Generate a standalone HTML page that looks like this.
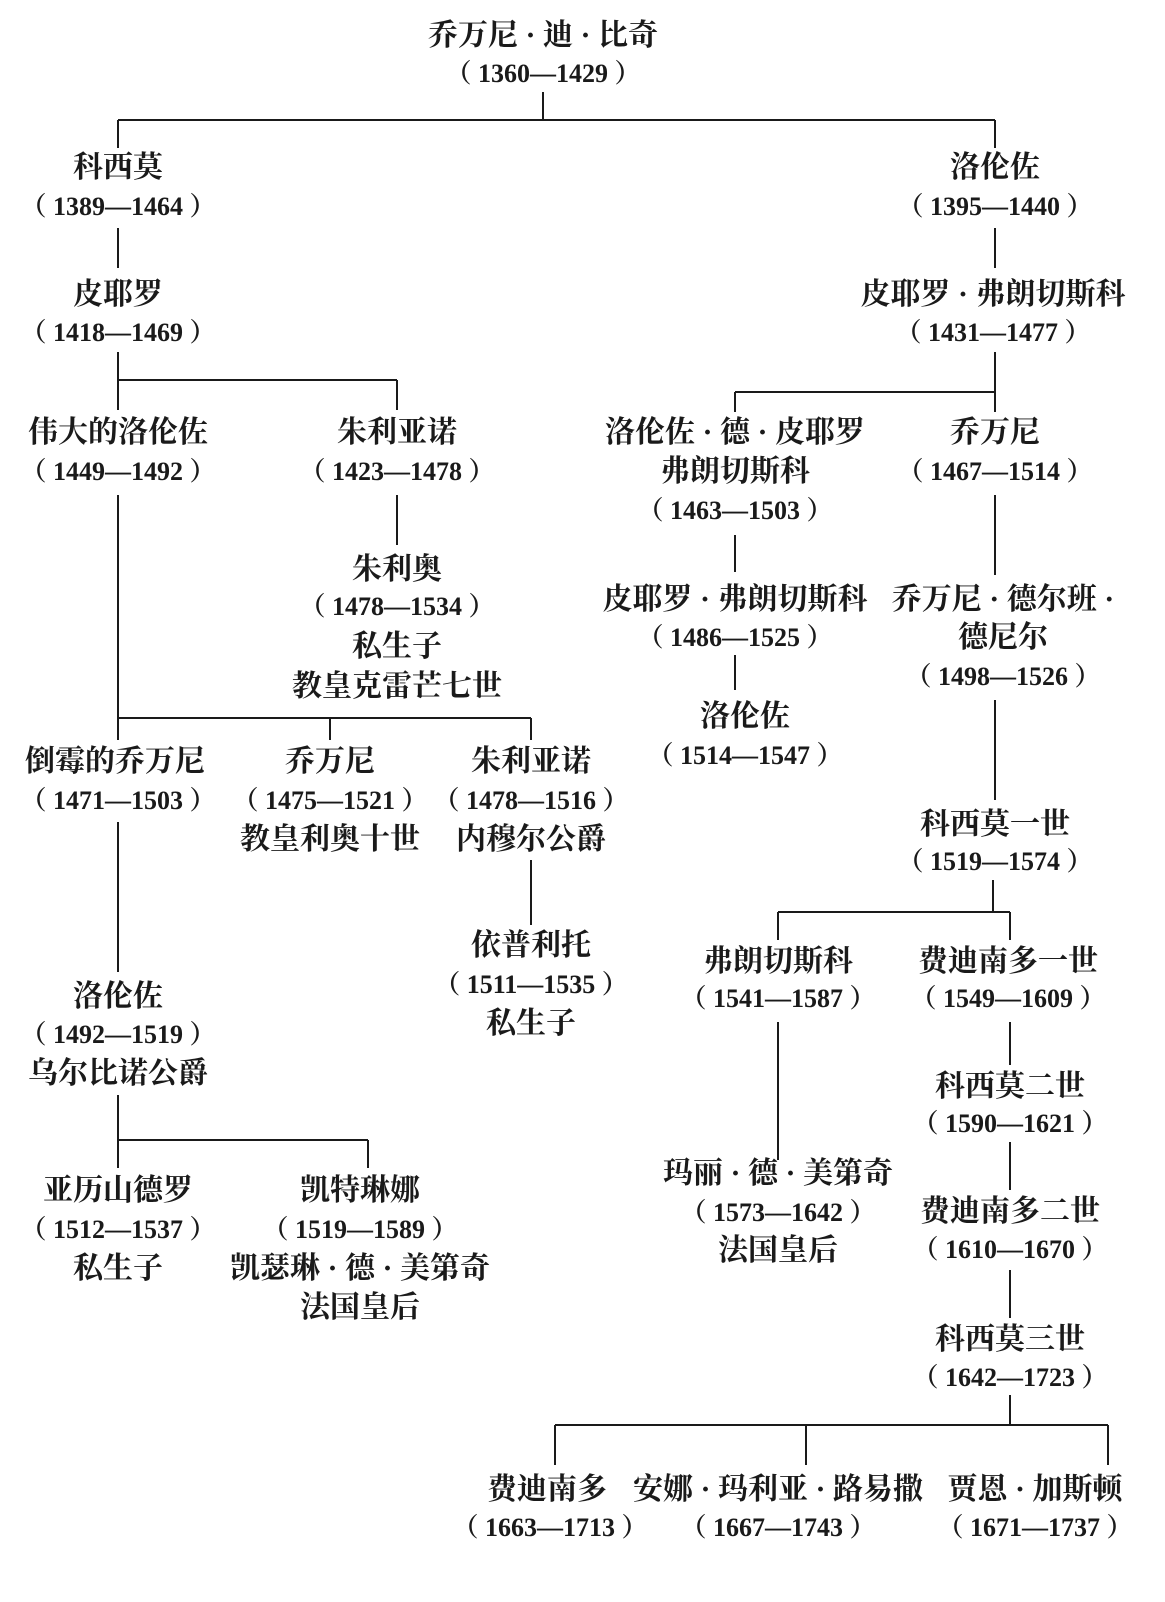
<!DOCTYPE html>
<html><head><meta charset="utf-8">
<style>
html,body{margin:0;padding:0;background:#fff;}
body{width:1165px;height:1602px;position:relative;overflow:hidden;}
.t{position:absolute;transform:translate(-50%,-50%);white-space:nowrap;font-family:"Liberation Serif","Noto Serif CJK SC",serif;font-weight:bold;color:#1a1a1a;font-size:30px;line-height:1;}
.d{font-size:26px;font-weight:bold;font-family:"Liberation Serif","Noto Serif CJK SC",serif;}
svg{position:absolute;left:0;top:0;}
</style></head><body>
<svg width="1165" height="1602" stroke="#1a1a1a" stroke-width="2" fill="none">
<path d="M543 92V120M118 120H995M118 120V148M995 120V148"/>
<path d="M118 228V268M118 352V410M118 380H397M397 380V410"/>
<path d="M397 495V545M118 495V740M118 718H531M330 718V740M531 718V740"/>
<path d="M118 822V972M118 1095V1168M118 1140H368M368 1140V1168M531 860V925"/>
<path d="M995 228V268M995 352V392M735 392H995M735 392V412M995 392V412"/>
<path d="M735 535V572M735 655V690M995 495V575M995 700V800"/>
<path d="M993 880V912M778 912H1010M778 912V940M1010 912V940"/>
<path d="M778 1022V1160M1010 1022V1065M1010 1142V1190M1010 1270V1318M1010 1395V1425M555 1425H1108M555 1425V1465M806 1425V1465M1108 1425V1465"/>
</svg>
<div class="t" style="left:543px;top:36px">乔万尼 · 迪 · 比奇</div>
<div class="t d" style="left:543px;top:74px">（ 1360—1429 ）</div>

<div class="t" style="left:118px;top:168px">科西莫</div>
<div class="t d" style="left:118px;top:207px">（ 1389—1464 ）</div>
<div class="t" style="left:118px;top:295px">皮耶罗</div>
<div class="t d" style="left:118px;top:333px">（ 1418—1469 ）</div>
<div class="t" style="left:118px;top:433px">伟大的洛伦佐</div>
<div class="t d" style="left:118px;top:472px">（ 1449—1492 ）</div>
<div class="t" style="left:397px;top:433px">朱利亚诺</div>
<div class="t d" style="left:397px;top:472px">（ 1423—1478 ）</div>
<div class="t" style="left:397px;top:570px">朱利奥</div>
<div class="t d" style="left:397px;top:607px">（ 1478—1534 ）</div>
<div class="t" style="left:397px;top:647px">私生子</div>
<div class="t" style="left:397px;top:687px">教皇克雷芒七世</div>
<div class="t" style="left:115px;top:762px">倒霉的乔万尼</div>
<div class="t d" style="left:118px;top:801px">（ 1471—1503 ）</div>
<div class="t" style="left:330px;top:762px">乔万尼</div>
<div class="t d" style="left:330px;top:801px">（ 1475—1521 ）</div>
<div class="t" style="left:330px;top:840px">教皇利奥十世</div>
<div class="t" style="left:531px;top:762px">朱利亚诺</div>
<div class="t d" style="left:531px;top:801px">（ 1478—1516 ）</div>
<div class="t" style="left:531px;top:840px">内穆尔公爵</div>
<div class="t" style="left:531px;top:946px">依普利托</div>
<div class="t d" style="left:531px;top:985px">（ 1511—1535 ）</div>
<div class="t" style="left:531px;top:1024px">私生子</div>
<div class="t" style="left:118px;top:997px">洛伦佐</div>
<div class="t d" style="left:118px;top:1035px">（ 1492—1519 ）</div>
<div class="t" style="left:118px;top:1074px">乌尔比诺公爵</div>
<div class="t" style="left:118px;top:1191px">亚历山德罗</div>
<div class="t d" style="left:118px;top:1230px">（ 1512—1537 ）</div>
<div class="t" style="left:118px;top:1269px">私生子</div>
<div class="t" style="left:360px;top:1191px">凯特琳娜</div>
<div class="t d" style="left:360px;top:1230px">（ 1519—1589 ）</div>
<div class="t" style="left:360px;top:1269px">凯瑟琳 · 德 · 美第奇</div>
<div class="t" style="left:360px;top:1308px">法国皇后</div>

<div class="t" style="left:995px;top:168px">洛伦佐</div>
<div class="t d" style="left:995px;top:207px">（ 1395—1440 ）</div>
<div class="t" style="left:993px;top:295px">皮耶罗 · 弗朗切斯科</div>
<div class="t d" style="left:993px;top:333px">（ 1431—1477 ）</div>
<div class="t" style="left:735px;top:433px">洛伦佐 · 德 · 皮耶罗</div>
<div class="t" style="left:735px;top:472px">弗朗切斯科</div>
<div class="t d" style="left:735px;top:511px">（ 1463—1503 ）</div>
<div class="t" style="left:995px;top:433px">乔万尼</div>
<div class="t d" style="left:995px;top:472px">（ 1467—1514 ）</div>
<div class="t" style="left:735px;top:600px">皮耶罗 · 弗朗切斯科</div>
<div class="t d" style="left:735px;top:638px">（ 1486—1525 ）</div>
<div class="t" style="left:745px;top:717px">洛伦佐</div>
<div class="t d" style="left:745px;top:756px">（ 1514—1547 ）</div>
<div class="t" style="left:1003px;top:600px">乔万尼 · 德尔班 ·</div>
<div class="t" style="left:1003px;top:638px">德尼尔</div>
<div class="t d" style="left:1003px;top:677px">（ 1498—1526 ）</div>
<div class="t" style="left:995px;top:825px">科西莫一世</div>
<div class="t d" style="left:995px;top:862px">（ 1519—1574 ）</div>
<div class="t" style="left:778px;top:962px">弗朗切斯科</div>
<div class="t d" style="left:778px;top:999px">（ 1541—1587 ）</div>
<div class="t" style="left:1008px;top:962px">费迪南多一世</div>
<div class="t d" style="left:1008px;top:999px">（ 1549—1609 ）</div>
<div class="t" style="left:778px;top:1174px">玛丽 · 德 · 美第奇</div>
<div class="t d" style="left:778px;top:1213px">（ 1573—1642 ）</div>
<div class="t" style="left:778px;top:1251px">法国皇后</div>
<div class="t" style="left:1010px;top:1087px">科西莫二世</div>
<div class="t d" style="left:1010px;top:1124px">（ 1590—1621 ）</div>
<div class="t" style="left:1010px;top:1212px">费迪南多二世</div>
<div class="t d" style="left:1010px;top:1250px">（ 1610—1670 ）</div>
<div class="t" style="left:1010px;top:1340px">科西莫三世</div>
<div class="t d" style="left:1010px;top:1378px">（ 1642—1723 ）</div>
<div class="t" style="left:547px;top:1490px">费迪南多</div>
<div class="t d" style="left:550px;top:1528px">（ 1663—1713 ）</div>
<div class="t" style="left:778px;top:1490px">安娜 · 玛利亚 · 路易撒</div>
<div class="t d" style="left:778px;top:1528px">（ 1667—1743 ）</div>
<div class="t" style="left:1035px;top:1490px">贾恩 · 加斯顿</div>
<div class="t d" style="left:1035px;top:1528px">（ 1671—1737 ）</div>
</body></html>
